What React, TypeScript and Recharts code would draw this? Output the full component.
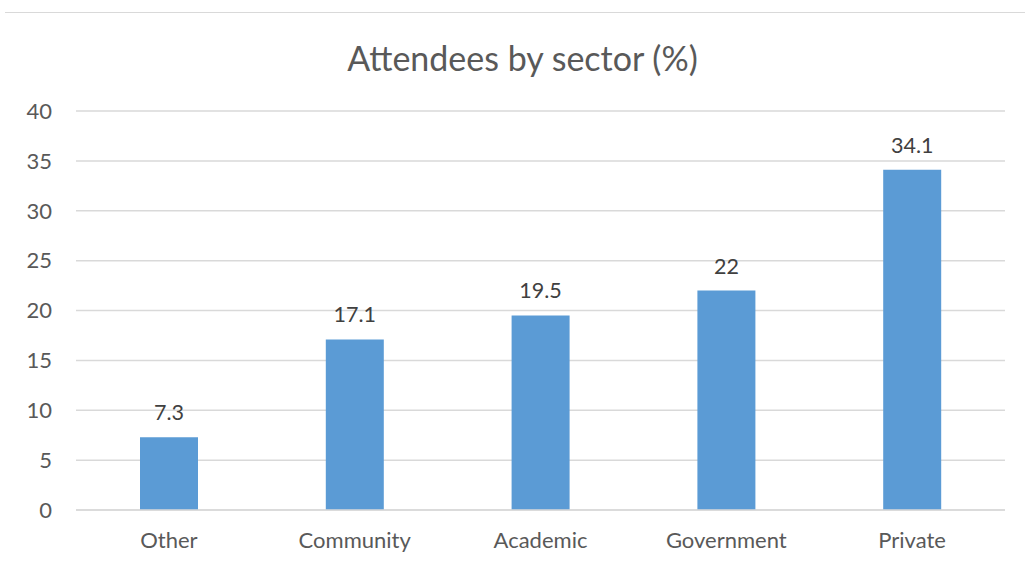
import { BarChart, Bar, XAxis, YAxis, CartesianGrid, LabelList } from "recharts"

// ── Data ──────────────────────────────────────────────────────────────────────

const sectors = ["Other", "Community", "Academic", "Government", "Private"]
const attendeesPct = [7.3, 17.1, 19.5, 22, 34.1]
const yTicks = [0, 5, 10, 15, 20, 25, 30, 35, 40]

const data = sectors.map((sector, i) => ({ sector, value: attendeesPct[i] }))

const FONT = "Lato, 'Open Sans', sans-serif"
const TEXT = "#595959"

export default function App() {
  return (
    <div style={{ position: "relative", width: 1025, height: 561, background: "#fff", fontFamily: FONT }}>
      <style>{`body { margin: 0; }`}</style>
      {/* chart frame top edge */}
      <div style={{ position: "absolute", left: 5, right: 0, top: 12, borderTop: "1px solid #d9d9d9" }} />
      <div
        style={{
          position: "absolute",
          top: 36,
          left: 0,
          width: 1045,
          textAlign: "center",
          fontSize: 34,
          color: TEXT,
          lineHeight: "44px",
        }}
      >
        Attendees by sector (%)
      </div>
      <BarChart
        width={1025}
        height={561}
        data={data}
        margin={{ top: 111, right: 20, bottom: 0, left: 0 }}
      >
        <CartesianGrid vertical={false} stroke="#d9d9d9" strokeWidth={1.5} />
        <XAxis
          dataKey="sector"
          axisLine={{ stroke: "#d9d9d9", strokeWidth: 1.5 }}
          tickLine={false}
          tickSize={0}
          tickMargin={22}
          height={51}
          tick={{ fontSize: 22, fill: TEXT, fontFamily: FONT }}
        />
        <YAxis
          domain={[0, 40]}
          ticks={yTicks}
          axisLine={false}
          tickLine={false}
          tickSize={0}
          tickMargin={24}
          width={76}
          tick={{ fontSize: 22, fill: TEXT, fontFamily: FONT }}
        />
        <Bar dataKey="value" fill="#5b9bd5" barSize={58} isAnimationActive={false}>
          <LabelList
            dataKey="value"
            position="top"
            offset={17}
            style={{ fontSize: 21.5, fill: "#404040", fontFamily: FONT }}
          />
        </Bar>
      </BarChart>
    </div>
  )
}
